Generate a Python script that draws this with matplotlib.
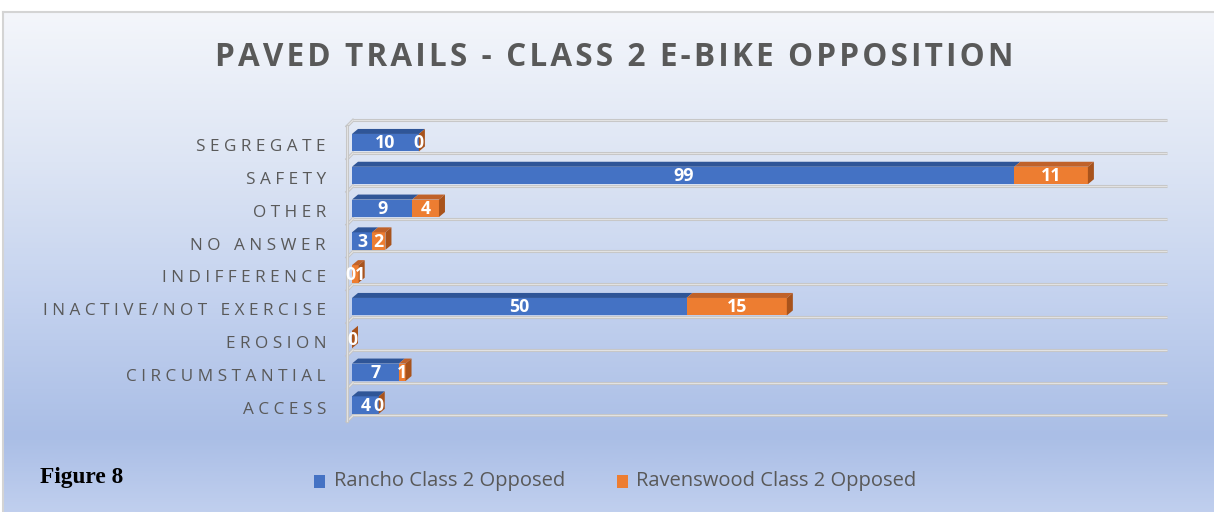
import numpy as np
import matplotlib
matplotlib.use("Agg")
import matplotlib.pyplot as plt
from matplotlib.patches import Polygon, Rectangle
from matplotlib.colors import LinearSegmentedColormap

# ---------------- data ----------------
categories = ["SEGREGATE", "SAFETY", "OTHER", "NO ANSWER", "INDIFFERENCE",
              "INACTIVE/NOT EXERCISE", "EROSION", "CIRCUMSTANTIAL", "ACCESS"]
rancho = [10, 99, 9, 3, 0, 50, 0, 7, 4]
ravenswood = [0, 11, 4, 2, 1, 15, 0, 1, 0]
series_names = ["Rancho Class 2 Opposed", "Ravenswood Class 2 Opposed"]
title = "PAVED TRAILS - CLASS 2 E-BIKE OPPOSITION"
figure_label = "Figure 8"

# ---------------- style ----------------
W, H = 1214, 512
BLUE, BLUE_TOP = "#4472c4", "#2f5597"
ORANGE, ORANGE_TOP, ORANGE_SIDE = "#ed7d31", "#c0622a", "#a8531c"
TEXT_GREY = "#595959"
FONT = ["Open Sans", "DejaVu Sans"]


def spaced(s, sep=" "):
    return sep.join(list(s))


fig = plt.figure(figsize=(W / 100, H / 100), dpi=100)
fig.patch.set_facecolor("white")

# background with gradient
bg = fig.add_axes([3 / W, 0, 1 - 3 / W, 500 / H])
cmap = LinearSegmentedColormap.from_list(
    "bg", [(0, "#f4f6fb"), (0.3, "#dde5f4"), (0.56, "#c5d3ef"),
           (0.85, "#aabee6"), (1, "#c0cfee")])
grad = np.linspace(0, 1, 512).reshape(-1, 1)
bg.imshow(grad, aspect="auto", cmap=cmap, extent=(0, 1, 0, 1), origin="upper")
bg.set_xlim(0, 1)
bg.set_ylim(0, 1)
bg.set_xticks([])
bg.set_yticks([])
for side in ["right", "bottom"]:
    bg.spines[side].set_visible(False)
for side in ["top", "left"]:
    bg.spines[side].set_color("#d4d4d4")
    bg.spines[side].set_linewidth(1.5)

# main plotting axes (pixel-calibrated)
XS = 6.69    # px per unit
YS = 32.8    # px per category
X0PX = 352   # x=0 location
Y0PX = 142.7  # first category centre
ax_l, ax_r, ax_t, ax_b = 330, 1180, 105, 435
ax = fig.add_axes([ax_l / W, (H - ax_b) / H, (ax_r - ax_l) / W, (ax_b - ax_t) / H])
ax.set_xlim((ax_l - X0PX) / XS, (ax_r - X0PX) / XS)
ax.set_ylim((ax_b - Y0PX) / YS, (ax_t - Y0PX) / YS)
ax.axis("off")
ax.patch.set_alpha(0)

ddx = 6 / XS
ddy = -5 / YS
fdx = 6 / XS
fdy = -6 / YS
hh = 8.75 / YS
wall_front = -5 / XS
wall_back = wall_front + fdx
x_end = (1167 - X0PX) / XS

n = len(categories)
# floor / wall lines
for k in range(n + 1):
    b = k - 0.5
    for lw, c in [(2.2, "#c4c4c4"), (0.9, "#e2e2e2")]:
        ax.plot([wall_back, x_end], [b + fdy, b + fdy], color=c, lw=lw,
                solid_capstyle="butt", zorder=1)
        ax.plot([wall_front, wall_back], [b, b + fdy], color=c, lw=lw, zorder=1)
for lw, c in [(2.2, "#c4c4c4"), (0.9, "#e2e2e2")]:
    ax.plot([wall_front, wall_front], [-0.5, n - 0.5], color=c, lw=lw, zorder=1)

# bars
lab_kw = dict(color="white", fontweight="bold", fontsize=12.8, family=FONT,
              va="center", zorder=5)
for i in range(n):
    r, v = rancho[i], ravenswood[i]
    y = i
    yt = y - hh
    ax.add_patch(Rectangle((0, yt), r, 2 * hh, facecolor=BLUE, lw=0, zorder=3))
    ax.add_patch(Rectangle((r, yt), v, 2 * hh, facecolor=ORANGE, lw=0, zorder=3))
    ax.add_patch(Polygon([(0, yt), (r, yt), (r + ddx, yt + ddy), (ddx, yt + ddy)],
                         closed=True, facecolor=BLUE_TOP, lw=0, zorder=3))
    ax.add_patch(Polygon([(r, yt), (r + v, yt), (r + v + ddx, yt + ddy), (r + ddx, yt + ddy)],
                         closed=True, facecolor=ORANGE_TOP, lw=0, zorder=3))
    e = r + v
    ax.add_patch(Polygon([(e, yt), (e, y + hh), (e + ddx, y + hh + ddy), (e + ddx, yt + ddy)],
                         closed=True, facecolor=ORANGE_SIDE, lw=0, zorder=3))
    if r == 0 and v > 0:
        # tiny segments: place the two labels side by side
        ax.text(v / 2, y + 0.02, str(r), ha="right", **lab_kw)
        ax.text(v / 2, y + 0.02, str(v), ha="left", **lab_kw)
    elif r == 0 and v == 0:
        ax.text(0, y + 0.02, str(r), ha="center", **lab_kw)
    else:
        ax.text(r / 2, y + 0.02, str(r), ha="center", **lab_kw)
        ax.text(r + v / 2, y + 0.02, str(v), ha="center", **lab_kw)
    # category label
    fig.text(326 / W, 1 - (Y0PX + i * YS + 4.5) / H, spaced(categories[i]),
             ha="right", va="center", color=TEXT_GREY, fontsize=12.3, family=FONT)

# title
fig.text(614 / W, 1 - 58 / H, spaced(title, "\u200a"), ha="center", va="center",
         color=TEXT_GREY, fontsize=22.7, fontweight="bold", family=FONT)

# legend
for (mx, tx), name, col in zip([(314, 334), (617, 636)], series_names, [BLUE, ORANGE]):
    fig.patches.append(Rectangle((mx / W, 1 - 488 / H), 11 / W, 13 / H, facecolor=col,
                                 lw=0, transform=fig.transFigure, figure=fig))
    fig.text(tx / W, 1 - 481 / H, name, ha="left", va="center", color=TEXT_GREY,
             fontsize=14.5, family=FONT)

fig.text(40 / W, 1 - 477 / H, figure_label, ha="left", va="center", color="black",
         fontsize=16.8, fontweight="bold", family=["Liberation Serif", "DejaVu Serif"])

fig.savefig("out.png", dpi=100)
